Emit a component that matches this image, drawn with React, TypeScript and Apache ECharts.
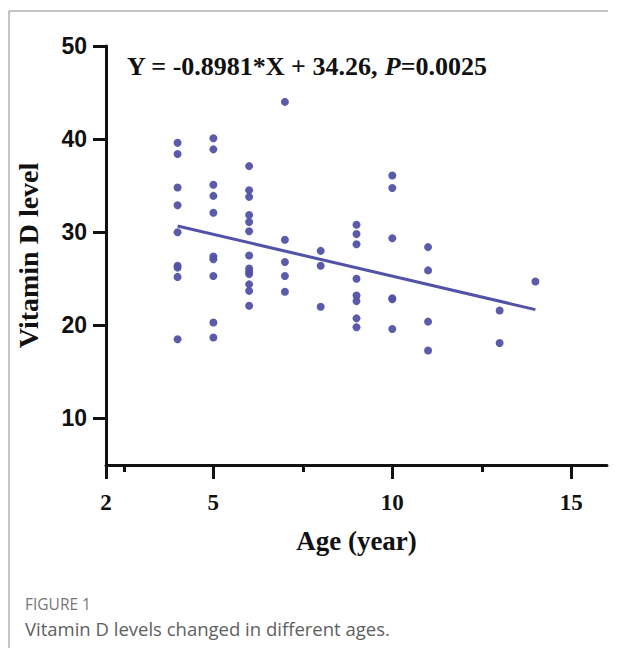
import React, { useEffect, useRef } from "react";
import * as echarts from "echarts";

// Age (years) of each child and the matching vitamin D level
const ageValues = [
  4, 4, 4, 4, 4, 4, 4, 4, 4,
  5, 5, 5, 5, 5, 5, 5, 5, 5, 5,
  6, 6, 6, 6, 6, 6, 6, 6, 6, 6, 6, 6, 6,
  7, 7, 7, 7, 7,
  8, 8, 8,
  9, 9, 9, 9, 9, 9, 9, 9,
  10, 10, 10, 10, 10, 10,
  11, 11, 11, 11,
  13, 13,
  14,
];
const vitaminDValues = [
  39.6, 38.4, 34.8, 32.9, 30.0, 26.4, 26.2, 25.2, 18.5,
  40.1, 38.9, 35.1, 33.9, 32.1, 27.4, 27.1, 25.3, 20.3, 18.7,
  37.1, 34.5, 33.8, 31.85, 31.1, 30.1, 27.5, 26.1, 25.75, 25.5, 24.4, 23.7, 22.1,
  44.0, 29.2, 26.8, 25.3, 23.6,
  28.0, 26.4, 22.0,
  30.8, 29.8, 28.7, 25.0, 23.2, 22.6, 20.75, 19.8,
  36.1, 34.75, 29.35, 22.8, 22.9, 19.6,
  28.4, 25.9, 20.4, 17.3,
  21.6, 18.1,
  24.7,
];

// Regression line end points (Y = -0.8981*X + 34.26)
const fitAges = [4, 14];
const fitLevels = [30.67, 21.69];

const xLabelValues = [2, 5, 10, 15];
const xMinorTickValues = [2.5, 7.5, 12.5];
const yTickValues = [10, 20, 30, 40, 50];

const dotColor = "#5252a8";
const axisColor = "#111111";

export default function App() {
  const ref = useRef<HTMLDivElement>(null);
  useEffect(() => {
    document.body.style.margin = "0";
    if (!ref.current) return;
    const chart = echarts.init(ref.current, null, { renderer: "svg" });
    const points = ageValues.map((a, i) => [a, vitaminDValues[i]]);
    const fit = fitAges.map((a, i) => [a, fitLevels[i]]);
    chart.setOption({
      animation: false,
      backgroundColor: "#ffffff",
      title: {
        left: 122,
        top: 48,
        text: "{b|Y = -0.8981*X + 34.26, }{i|P}{b|=0.0025}",
        textStyle: {
          rich: {
            b: { fontFamily: "Liberation Serif", fontWeight: "bold", fontSize: 26, color: "#111" },
            i: { fontFamily: "Liberation Serif", fontWeight: "bold", fontStyle: "italic", fontSize: 26, color: "#111" },
          },
        },
      },
      grid: { left: 106, right: 10, top: 46, bottom: 183, containLabel: false },
      xAxis: [
        {
          type: "value",
          min: 2,
          max: 16,
          position: "bottom",
          splitLine: { show: false },
          axisLine: { show: true, onZero: false, lineStyle: { color: axisColor, width: 3 } },
          axisTick: { show: true, customValues: xLabelValues, length: 14, lineStyle: { color: axisColor, width: 3 } },
          axisLabel: {
            customValues: xLabelValues,
            margin: 26,
            fontFamily: "Liberation Serif",
            fontWeight: "bold",
            fontSize: 23,
            color: "#111",
          },
          name: "Age (year)",
          nameLocation: "middle",
          nameGap: 62,
          nameTextStyle: { fontFamily: "Liberation Serif", fontWeight: "bold", fontSize: 27, color: "#111" },
        },
        {
          type: "value",
          min: 2,
          max: 16,
          position: "bottom",
          splitLine: { show: false },
          axisLine: { show: false },
          axisTick: { show: true, customValues: xMinorTickValues, length: 7, lineStyle: { color: axisColor, width: 3 } },
          axisLabel: { show: false },
        },
      ],
      yAxis: {
        type: "value",
        min: 5,
        max: 50,
        splitLine: { show: false },
        axisLine: { show: true, onZero: false, lineStyle: { color: axisColor, width: 3 } },
        axisTick: { show: true, customValues: yTickValues, length: 13, lineStyle: { color: axisColor, width: 3 } },
        axisLabel: {
          customValues: yTickValues,
          margin: 19,
          fontFamily: "Liberation Sans",
          fontWeight: "bold",
          fontSize: 23,
          color: "#111",
        },
        name: "Vitamin D level",
        nameLocation: "middle",
        nameRotate: 90,
        nameGap: 64,
        nameTextStyle: { fontFamily: "Liberation Serif", fontWeight: "bold", fontSize: 28, color: "#111" },
      },
      series: [
        {
          type: "line",
          data: fit,
          xAxisIndex: 0,
          symbol: "none",
          lineStyle: { color: dotColor, width: 3 },
          z: 2,
        },
        {
          type: "scatter",
          data: points,
          xAxisIndex: 0,
          symbol: "circle",
          symbolSize: 8,
          itemStyle: { color: dotColor, opacity: 0.95 },
          z: 3,
        },
      ],
      graphic: [
        { type: "line", shape: { x1: 9, y1: 11, x2: 608, y2: 11 }, style: { stroke: "#8a8a8a", lineWidth: 1 } },
        { type: "line", shape: { x1: 9, y1: 11, x2: 9, y2: 648 }, style: { stroke: "#8a8a8a", lineWidth: 1 } },
        {
          type: "text",
          left: 25,
          top: 596,
          style: { text: "FIGURE 1", font: "15.5px 'Open Sans'", fill: "#777777" },
        },
        {
          type: "text",
          left: 25,
          top: 619,
          style: { text: "Vitamin D levels changed in different ages.", font: "18.5px 'Open Sans'", fill: "#606060" },
        },
      ],
    });
    return () => chart.dispose();
  }, []);
  return <div ref={ref} style={{ width: 617, height: 648 }} />;
}
